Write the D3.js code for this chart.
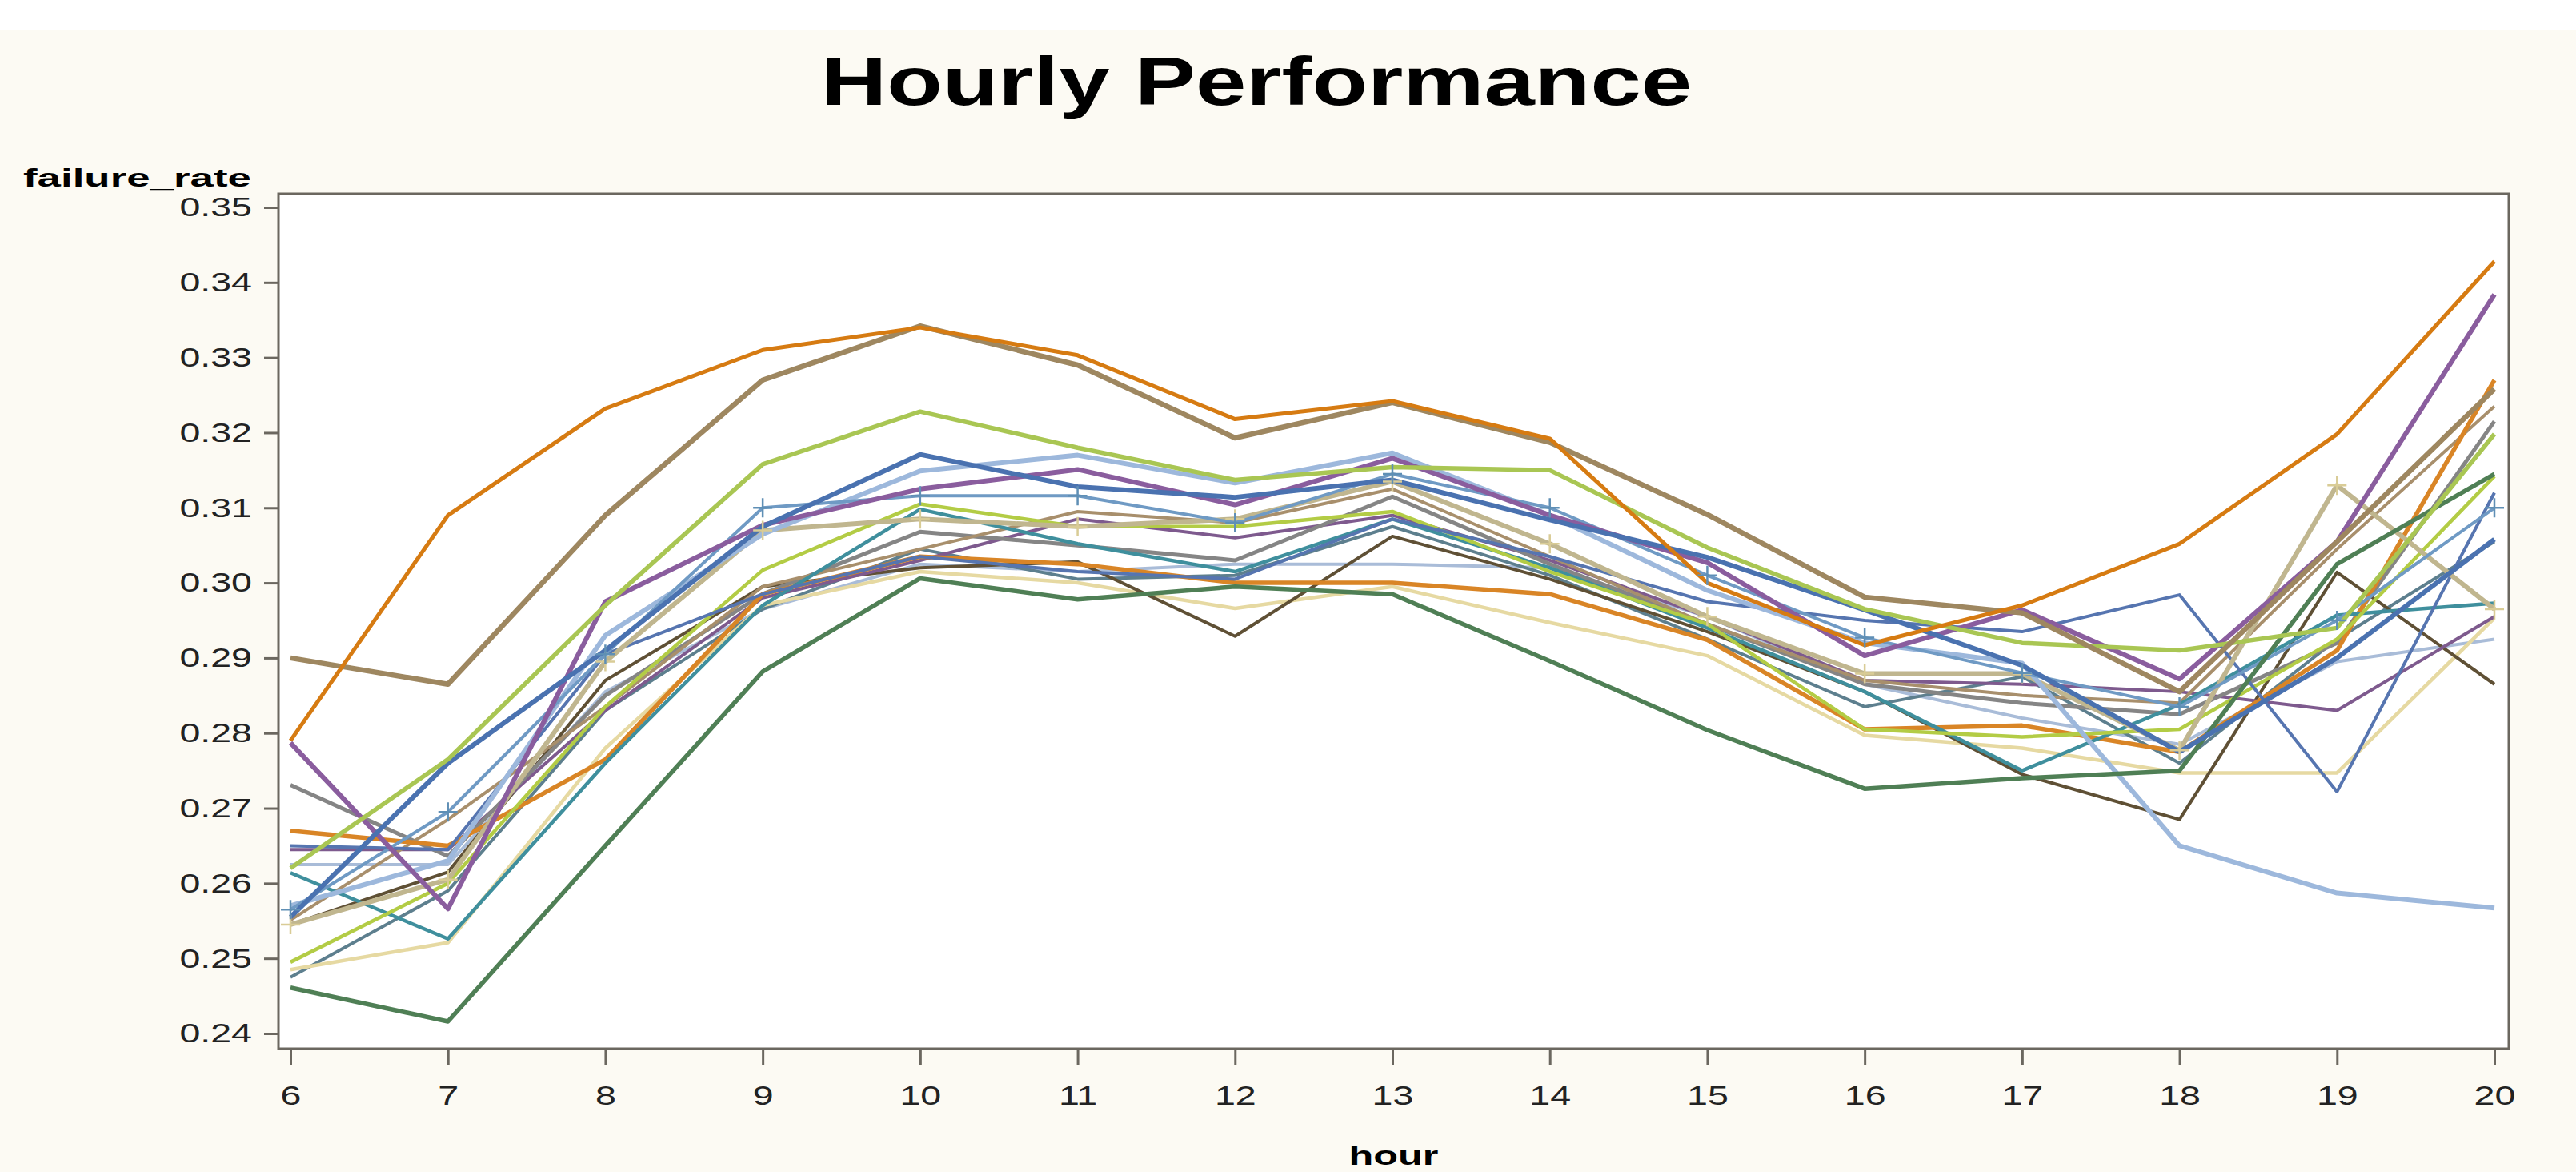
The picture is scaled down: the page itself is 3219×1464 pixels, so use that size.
<!DOCTYPE html>
<html>
<head>
<meta charset="utf-8">
<script src="https://cdn.jsdelivr.net/npm/d3@7"></script>
<style>
  body { margin: 0; background: #fcfaf3; }
  text { font-family: "Liberation Sans", Arial, sans-serif; }
</style>
</head>
<body>
<div id="chart"></div>
<script>
// hours on the x axis, failure rate ticks on the y axis
const hours = [6, 7, 8, 9, 10, 11, 12, 13, 14, 15, 16, 17, 18, 19, 20];
const yTicks = [0.24, 0.25, 0.26, 0.27, 0.28, 0.29, 0.30, 0.31, 0.32, 0.33, 0.34, 0.35];

// one array per series, hour 6 .. hour 20
const orangeTop = [0.279, 0.309, 0.3232, 0.331, 0.334, 0.3303, 0.3218, 0.3242, 0.3192, 0.300, 0.2917, 0.297, 0.3052, 0.3198, 0.3428];
const tanTop = [0.290, 0.2865, 0.309, 0.327, 0.3342, 0.329, 0.3193, 0.324, 0.3187, 0.3091, 0.2981, 0.296, 0.2855, 0.3055, 0.3258];
const greenUpper = [0.262, 0.2765, 0.297, 0.3158, 0.3228, 0.318, 0.3137, 0.3154, 0.315, 0.3047, 0.2965, 0.292, 0.291, 0.294, 0.3198];
const blueThick = [0.2555, 0.276, 0.291, 0.3075, 0.3171, 0.3128, 0.3114, 0.3137, 0.3084, 0.3034, 0.2964, 0.289, 0.2775, 0.290, 0.3058];
const purple = [0.2787, 0.2566, 0.2975, 0.3077, 0.3125, 0.3151, 0.3104, 0.3166, 0.309, 0.3027, 0.2903, 0.2964, 0.2872, 0.3055, 0.3384];
const purpleThin = [0.2645, 0.2645, 0.283, 0.298, 0.303, 0.3085, 0.306, 0.309, 0.303, 0.2955, 0.287, 0.2865, 0.2855, 0.283, 0.2955];
const teal = [0.2614, 0.2526, 0.276, 0.297, 0.3098, 0.3052, 0.3015, 0.3085, 0.302, 0.294, 0.2855, 0.275, 0.2838, 0.2957, 0.2973];
const darkGreen = [0.2461, 0.2416, 0.265, 0.2882, 0.3006, 0.2978, 0.2995, 0.2985, 0.2896, 0.2804, 0.2726, 0.274, 0.275, 0.3025, 0.3145];
const olive = [0.2545, 0.2615, 0.287, 0.2995, 0.302, 0.3028, 0.2929, 0.3062, 0.3005, 0.2935, 0.2855, 0.2745, 0.2685, 0.3014, 0.2865];
const lightBlue = [0.257, 0.263, 0.293, 0.3065, 0.3149, 0.317, 0.3133, 0.3173, 0.309, 0.299, 0.292, 0.2893, 0.265, 0.2587, 0.2567];
const khaki = [0.2545, 0.2605, 0.2895, 0.307, 0.3085, 0.3075, 0.3085, 0.3135, 0.3052, 0.2955, 0.2879, 0.2879, 0.2777, 0.313, 0.2965];
const paleYellow = [0.2485, 0.2521, 0.278, 0.297, 0.3015, 0.300, 0.2966, 0.2995, 0.2947, 0.2903, 0.2797, 0.278, 0.2747, 0.2747, 0.2953];
const gray = [0.2731, 0.2636, 0.285, 0.2985, 0.3068, 0.305, 0.303, 0.3115, 0.3025, 0.2945, 0.2865, 0.284, 0.2825, 0.292, 0.3215];
const tanThin = [0.2551, 0.2685, 0.2835, 0.2995, 0.3045, 0.3095, 0.308, 0.3125, 0.3035, 0.2945, 0.287, 0.285, 0.284, 0.3045, 0.3235];
const orangeLow = [0.267, 0.265, 0.2765, 0.2985, 0.3035, 0.3025, 0.300, 0.300, 0.2985, 0.2924, 0.2805, 0.281, 0.2775, 0.291, 0.327];
const steelBlue = [0.2565, 0.2695, 0.2905, 0.310, 0.3116, 0.3116, 0.308, 0.3145, 0.310, 0.301, 0.2927, 0.288, 0.2835, 0.295, 0.310];
const lime = [0.2495, 0.260, 0.2835, 0.3017, 0.3105, 0.3075, 0.3075, 0.3095, 0.3015, 0.2945, 0.2805, 0.2795, 0.2805, 0.2925, 0.3142];
const blueZig = [0.265, 0.2645, 0.2905, 0.2985, 0.3035, 0.3015, 0.3005, 0.3085, 0.3035, 0.2975, 0.295, 0.2935, 0.2984, 0.2722, 0.312];
const paleSteel = [0.2625, 0.2625, 0.2855, 0.2965, 0.3025, 0.3015, 0.3025, 0.3025, 0.302, 0.2955, 0.2865, 0.282, 0.2785, 0.2895, 0.2925];
const slate = [0.2475, 0.259, 0.283, 0.2965, 0.3045, 0.3005, 0.301, 0.3075, 0.301, 0.2925, 0.2835, 0.2875, 0.276, 0.2925, 0.3055];

// drawing order, colour and weight for each series
const series = [
  {values: paleSteel, color: "#a9bcd8", width: 4},
  {values: slate, color: "#5d7f8e", width: 4},
  {values: paleYellow, color: "#e6d9a2", width: 4.5},
  {values: olive, color: "#5f5035", width: 4},
  {values: purpleThin, color: "#7e5a8e", width: 4},
  {values: gray, color: "#858585", width: 5},
  {values: tanThin, color: "#a88f6c", width: 4},
  {values: orangeLow, color: "#d98526", width: 5.5},
  {values: teal, color: "#3f8f9d", width: 4.5},
  {values: lime, color: "#b3cc45", width: 4.5},
  {values: blueZig, color: "#5675b0", width: 4},
  {values: khaki, color: "#c0b68f", width: 6, marker: "#d9cc96"},
  {values: lightBlue, color: "#9db8dc", width: 6},
  {values: steelBlue, color: "#6f9ac4", width: 4, marker: "#5f8fb5"},
  {values: darkGreen, color: "#4f7f55", width: 5.5},
  {values: purple, color: "#8a5d9e", width: 6},
  {values: blueThick, color: "#4a72b0", width: 6},
  {values: greenUpper, color: "#a9c653", width: 5.5},
  {values: tanTop, color: "#9e8760", width: 6.5},
  {values: orangeTop, color: "#d67b12", width: 5}
];

const width = 3219;
const height = 1464;
const frame = {left: 348, right: 3135, top: 242, bottom: 1310};
const textStretch = 1.37;

const xScale = d3.scaleLinear()
  .domain([6, 20])
  .range([363, 3117]);
const yScale = d3.scaleLinear()
  .domain([0.24, 0.35])
  .range([1291, 259]);

const line = d3.line()
  .x(function (d, i) { return xScale(hours[i]); })
  .y(function (d) { return yScale(d); });

const svg = d3.select("#chart")
  .append("svg")
  .attr("width", width)
  .attr("height", height);

svg.append("rect")
  .attr("width", width)
  .attr("height", height)
  .attr("fill", "#fcfaf3");
svg.append("rect")
  .attr("width", width)
  .attr("height", 37)
  .attr("fill", "#ffffff");

// white plot area
svg.append("rect")
  .attr("x", frame.left)
  .attr("y", frame.top)
  .attr("width", frame.right - frame.left)
  .attr("height", frame.bottom - frame.top)
  .attr("fill", "#ffffff");

const plot = svg.append("g");

series.forEach(function (s) {
  plot.append("path")
    .datum(s.values)
    .attr("d", line)
    .attr("fill", "none")
    .attr("stroke", s.color)
    .attr("stroke-width", s.width)
    .attr("stroke-linejoin", "round");
});

// "+" markers on the two series that carry them
series.filter(function (s) { return s.marker; }).forEach(function (s) {
  plot.selectAll(null)
    .data(s.values)
    .enter().append("path")
      .attr("d", function (d, i) {
        const cx = xScale(hours[i]), cy = yScale(d);
        return "M" + (cx - 12) + "," + cy + "h24M" + cx + "," + (cy - 12) + "v24";
      })
      .attr("stroke", s.marker)
      .attr("stroke-width", 2.5)
      .attr("fill", "none");
});

// frame
svg.append("rect")
  .attr("x", frame.left)
  .attr("y", frame.top)
  .attr("width", frame.right - frame.left)
  .attr("height", frame.bottom - frame.top)
  .attr("fill", "none")
  .attr("stroke", "#6b675f")
  .attr("stroke-width", 3);

const yAxis = svg.append("g")
  .attr("transform", "translate(" + frame.left + ",0)")
  .call(d3.axisLeft(yScale).tickValues(yTicks).tickSize(18).tickFormat(d3.format(".2f")));
yAxis.select(".domain").remove();
yAxis.selectAll("line").attr("stroke", "#6b675f").attr("stroke-width", 3);
yAxis.selectAll("text")
  .attr("x", -33 / textStretch)
  .attr("transform", "scale(" + textStretch + ",1)")
  .attr("fill", "#222")
  .style("font-size", "34px");

const xAxis = svg.append("g")
  .attr("transform", "translate(0," + frame.bottom + ")")
  .call(d3.axisBottom(xScale).tickValues(hours).tickSize(20).tickFormat(d3.format("d")));
xAxis.select(".domain").remove();
xAxis.selectAll("line").attr("stroke", "#6b675f").attr("stroke-width", 3);
xAxis.selectAll("text")
  .attr("y", 70)
  .attr("dy", null)
  .attr("transform", "scale(" + textStretch + ",1)")
  .attr("fill", "#222")
  .style("font-size", "34px");

svg.append("text")
  .attr("x", 1570)
  .attr("y", 131)
  .attr("text-anchor", "middle")
  .attr("textLength", 1088)
  .attr("lengthAdjust", "spacingAndGlyphs")
  .style("font-size", "85px")
  .style("font-weight", "bold")
  .text("Hourly Performance");

svg.append("text")
  .attr("x", 29)
  .attr("y", 233)
  .attr("textLength", 285)
  .attr("lengthAdjust", "spacingAndGlyphs")
  .style("font-size", "31px")
  .style("font-weight", "bold")
  .text("failure_rate");

svg.append("text")
  .attr("x", (frame.left + frame.right) / 2)
  .attr("y", 1455)
  .attr("text-anchor", "middle")
  .attr("textLength", 112)
  .attr("lengthAdjust", "spacingAndGlyphs")
  .style("font-size", "34px")
  .style("font-weight", "bold")
  .text("hour");
</script>
</body>
</html>
